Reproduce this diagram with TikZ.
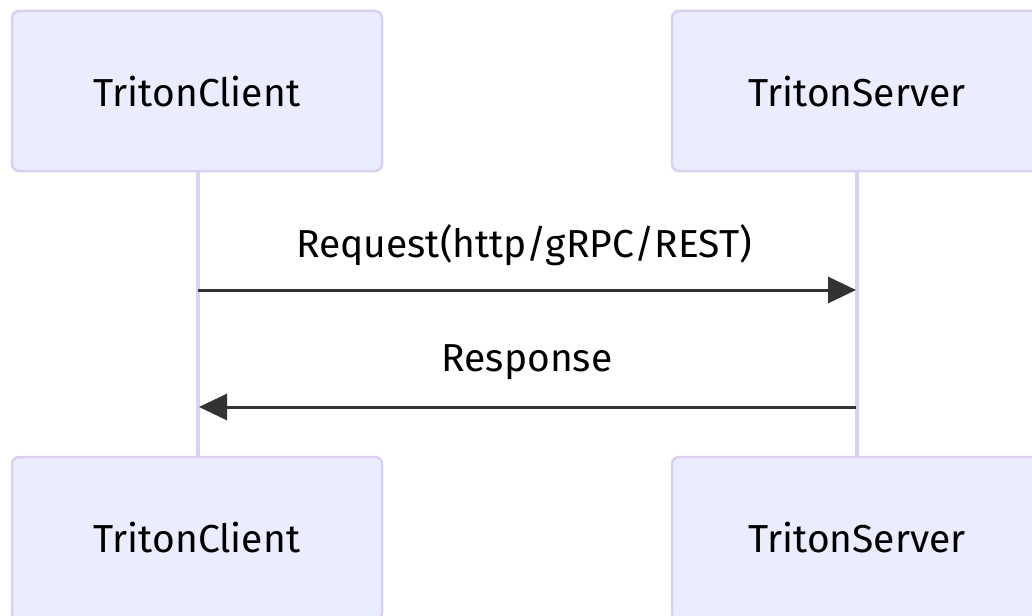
\documentclass[tikz,border=0pt]{standalone}
\usepackage{fontspec}
\setmainfont{Fira Sans}
\usetikzlibrary{arrows.meta}
\definecolor{actorfill}{HTML}{ECECFF}
\definecolor{actorline}{HTML}{DCD0F2}
\definecolor{msgline}{HTML}{333333}
\tikzset{
  actor/.style={draw=actorline, line width=2.5pt, fill=actorfill, rounded corners=7pt},
  lifeline/.style={draw=actorline, line width=3.5pt},
  msg/.style={draw=msgline, line width=3pt, -{Triangle[length=28pt,width=26pt]}},
  lbl/.style={font=\fontsize{39}{46}\selectfont, text=black, inner sep=0pt},
}
\begin{document}
\begin{tikzpicture}[x=1pt,y=-1pt]
\useasboundingbox (0,0) rectangle (1032,615);
\begin{scope}
\clip (0,0) rectangle (1032,615);
\draw[actor] (12,11) rectangle (382,171);
\draw[actor] (672,11) rectangle (1044,171);
\draw[actor] (12,457) rectangle (382,620);
\draw[actor] (672,457) rectangle (1044,620);
\end{scope}
\node[lbl] (ct) at (197,92) {TritonClient};
\node[lbl] (st) at (857,92) {TritonServer};
\node[lbl] (cb) at (197,538) {TritonClient};
\node[lbl] (sb) at (857,538) {TritonServer};
\coordinate (c1) at (198,172);
\coordinate (c2) at (198,456);
\coordinate (s1) at (857,172);
\coordinate (s2) at (857,456);
\draw[lifeline] (c1) -- (c2);
\draw[lifeline] (s1) -- (s2);
\coordinate (rqa) at (198,290);
\coordinate (rqb) at (856,290);
\coordinate (rsa) at (856,407);
\coordinate (rsb) at (199,407);
\draw[msg] (rqa) -- (rqb);
\draw[msg] (rsa) -- (rsb);
\node[lbl] (rql) at (524,245) {Request(http/gRPC/REST)};
\node[lbl] (rsl) at (527,362) {Response};
\end{tikzpicture}
\end{document}
